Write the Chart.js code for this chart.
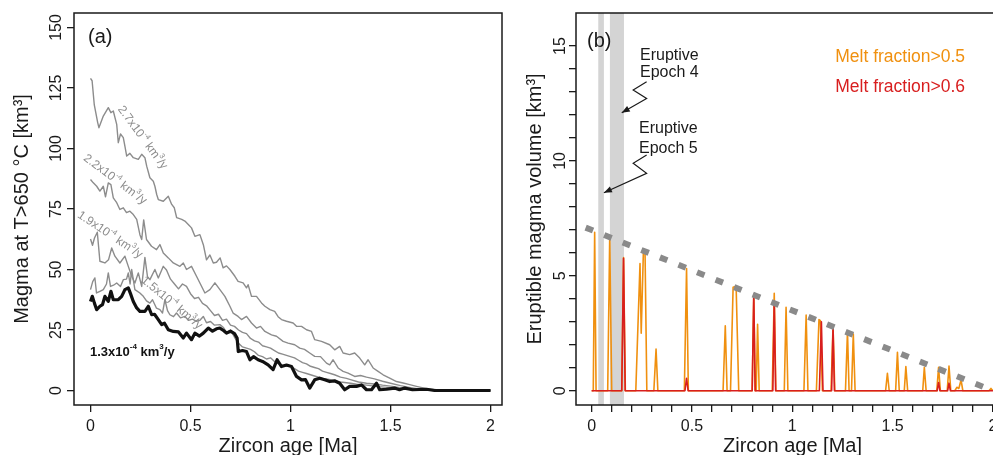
<!DOCTYPE html>
<html><head><meta charset="utf-8">
<script src="https://cdn.jsdelivr.net/npm/chart.js@4.4.1/dist/chart.umd.min.js"></script>
<style>
html,body{margin:0;padding:0;background:#fff;overflow:hidden;width:993px;height:455px;}
#ca{position:absolute;left:0;top:0;}
#cb{position:absolute;left:510px;top:0;}
</style></head><body>
<canvas id="ca" width="510" height="455"></canvas>
<canvas id="cb" width="510" height="455"></canvas>
<script>
// ---------- Panel (a): magma at T>650 C vs zircon age ----------
const age27 = [0,0.008,0.019,0.036,0.042,0.064,0.089,0.102,0.114,0.131,0.139,0.15,0.164,0.172,0.181,0.197,0.214,0.239,0.256,0.272,0.281,0.297,0.314,0.322,0.331,0.339,0.364,0.389,0.406,0.419,0.431,0.456,0.472,0.489,0.505,0.522,0.547,0.565,0.58,0.597,0.614,0.63,0.648,0.663,0.68,0.697,0.722,0.738,0.763,0.78,0.788,0.805,0.83,0.855,0.872,0.897,0.921,0.938,0.955,0.98,1.013,1.03,1.055,1.08,1.105,1.121,1.155,1.196,1.221,1.246,1.263,1.296,1.321,1.346,1.371,1.388,1.413,1.438,1.463,1.496,1.53,1.563,1.596,1.63,1.68,1.73,1.78,2.0];
const vol27 = [129,128,118,110.7,108.6,113.4,116.9,114.8,115.5,110,102.4,106,104.5,101,96.9,98,96.2,95.5,97.6,96.2,92.7,87.9,86.5,84.4,81,78.9,78.2,80.3,76.9,75.5,71.4,70.7,70,68.6,67.2,63.7,64.4,60,54,56,52.7,53,54.8,50.7,51.5,50,47.2,45.1,44.5,42.4,43.7,38.9,38.9,36.2,34.8,33.4,32.7,30.5,29.3,28.6,27.9,26.5,26.5,25.1,24.4,21,20.3,18.9,16.8,18.2,15.5,14.8,15.5,13.4,10.6,12.7,9.3,7.9,6.5,5.1,3.7,3.1,2.4,1.7,0.7,0.3,0,0];

const age22 = [0,0.014,0.031,0.047,0.064,0.075,0.089,0.102,0.114,0.131,0.147,0.164,0.18,0.197,0.214,0.231,0.247,0.256,0.266,0.28,0.305,0.33,0.347,0.364,0.389,0.414,0.447,0.464,0.48,0.505,0.53,0.547,0.572,0.597,0.622,0.647,0.672,0.697,0.713,0.738,0.755,0.78,0.805,0.83,0.85,0.872,0.905,0.93,0.963,0.988,1.021,1.046,1.07,1.096,1.121,1.15,1.18,1.196,1.213,1.238,1.263,1.288,1.321,1.35,1.38,1.42,1.46,1.5,1.55,1.6,1.65,1.7,1.75,2.0];
const vol22 = [87.2,85.8,84.4,82.4,84.4,80,85.8,85.1,79.6,77.6,74.8,75.5,73.5,74.1,72.7,70.7,64.4,62.4,70.5,62.4,59.6,58.2,60.3,56.8,54.8,52.7,51.3,52.7,50,51.3,47.2,44.4,40.3,41.7,44.5,41.7,38.9,34.8,32,30.6,29.3,30.6,27.9,25.8,26.5,24.4,23,22.4,20.3,19.6,18.9,17.5,17,15.5,14.1,14,11.3,10.6,12.7,9.3,7.9,7.2,5.8,6.2,5.5,4.8,3.8,3,2,1.2,0.5,0.2,0,0];

const age19 = [0,0.01,0.02,0.034,0.047,0.072,0.09,0.106,0.122,0.147,0.172,0.189,0.206,0.222,0.239,0.256,0.272,0.285,0.297,0.322,0.339,0.364,0.38,0.4,0.42,0.44,0.46,0.48,0.5,0.52,0.54,0.56,0.58,0.6,0.62,0.64,0.66,0.68,0.7,0.72,0.74,0.76,0.78,0.8,0.82,0.84,0.86,0.88,0.9,0.92,0.94,0.96,0.98,1.0,1.02,1.04,1.06,1.08,1.1,1.12,1.14,1.16,1.18,1.2,1.22,1.25,1.28,1.3,1.34,1.38,1.42,1.46,1.5,1.55,1.6,1.65,1.7,2.0];
const vol19 = [62.6,60,63,65.4,53.4,52.7,54,58.9,55.5,52.7,55.5,51.3,47.2,44.4,48.6,43,55,47,45.8,50,46.5,51.3,49.8,46,44,42,44,43,40,38,38.5,36,35,33,31,31.5,29,29.5,27,26.5,25,24,23.5,21.5,20.5,20,18.5,18,17.5,16.5,15.5,15,14.5,14,13.5,12.5,11.5,11,10,9.5,9,8,7.5,7,6.5,5.5,5,4.5,3.5,3,2.7,2.2,1.8,1.2,0.8,0.4,0.1,0];

const age15 = [0,0.011,0.022,0.03,0.047,0.064,0.08,0.089,0.1,0.115,0.131,0.15,0.164,0.18,0.189,0.198,0.206,0.222,0.247,0.264,0.28,0.297,0.31,0.33,0.347,0.36,0.372,0.385,0.397,0.415,0.43,0.45,0.472,0.49,0.51,0.53,0.547,0.564,0.58,0.6,0.62,0.647,0.665,0.68,0.7,0.72,0.74,0.76,0.78,0.8,0.82,0.84,0.86,0.88,0.9,0.92,0.94,0.96,0.98,1.0,1.02,1.04,1.06,1.08,1.1,1.12,1.14,1.16,1.18,1.2,1.22,1.25,1.28,1.3,1.33,1.36,1.4,1.44,1.48,1.52,1.56,1.6,1.65,1.7,1.75,2.0];
const vol15 = [41.7,45,46.5,40.3,41,41.7,44,48.6,43,43.5,44.4,43,45.8,46,48.6,44,50,41.7,40.3,38.9,37,36.1,37.5,34,33.4,32,37.5,33,31.3,30.5,32,30,30.6,29,29.5,28.6,29,30.6,28,28.5,27,27.2,26,24,25,22,19.5,18,17.5,17,16,14.5,14,13,13.5,12,11,10.5,10,10,9,8,7.5,7,6.5,6,5.5,5,4.8,4.5,4,3.5,3.2,3,2.6,2.4,2,1.6,1.3,1,0.7,0.5,0.3,0.1,0,0];

const age13 = [0,0.009,0.02,0.031,0.047,0.06,0.072,0.089,0.102,0.114,0.139,0.156,0.172,0.189,0.2,0.214,0.231,0.247,0.272,0.289,0.306,0.32,0.339,0.356,0.37,0.389,0.414,0.44,0.464,0.48,0.505,0.522,0.545,0.564,0.589,0.61,0.63,0.647,0.665,0.68,0.7,0.72,0.733,0.739,0.76,0.78,0.797,0.815,0.838,0.86,0.888,0.913,0.933,0.955,0.98,1.005,1.03,1.055,1.075,1.096,1.121,1.146,1.171,1.196,1.22,1.246,1.271,1.296,1.33,1.355,1.38,1.405,1.43,1.446,1.48,1.52,1.545,1.571,1.61,1.68,1.72,2.0];
const vol13 = [36.8,38.9,36,33.4,34.8,35.5,38.9,36.8,41,37.5,37.5,38.9,41.7,42.4,40,36.8,34.1,32.7,32.7,34.8,31.3,31.5,29.3,27.2,27.8,25.1,24.4,24.2,21.7,23.7,21,23.7,22.5,23.7,25.8,24.5,25.5,25.8,24.8,23.7,24.5,23.5,21.7,16.1,16.5,16.1,12.7,14,12.7,12,10.6,8.6,12.7,9.9,10.5,9.9,5.8,4.4,4.5,1,4.4,5.1,4.4,3.7,4,3,0.3,1.7,1.7,2.3,0.3,0.3,3,0.3,0.5,1,0.3,1,0.3,0.5,0,0];

const xTicksA = [0, 0.5, 1, 1.5, 2];
const yTicksA = [0, 25, 50, 75, 100, 125, 150];

// ---------- Panel (b): eruptible magma volume ----------
const orangeAge = [0,0.008,0.015,0.022, 0.08,0.09,0.1, 0.15,0.159,0.168, 0.22,0.241,0.247,0.258,0.266,0.275, 0.31,0.321,0.33, 0.462,0.473,0.482, 0.655,0.666,0.675, 0.692,0.705,0.72,0.733, 0.8,0.808,0.815, 0.82,0.827,0.835, 0.9,0.91,0.918, 0.96,0.969,0.978, 1.058,1.069,1.078, 1.12,1.133,1.14,1.15, 1.193,1.203,1.212, 1.265,1.275,1.283, 1.295,1.304,1.313, 1.465,1.474,1.483, 1.515,1.524,1.533, 1.558,1.566,1.575, 1.65,1.658,1.667, 1.72,1.729,1.738, 1.772,1.781,1.79, 1.81,1.82,1.83,1.841,1.85, 1.98,1.99,2.0];
const orangeVol = [0,0,6.9,0, 0,6.67,0, 0,5.8,0, 0,5.54,2.5,6.09,6.09,0, 0,1.81,0, 0,5.32,0, 0,2.83,0, 0,4.5,4.55,0, 0,4.19,0, 0,2.89,0, 0,4.24,0, 0,3.63,0, 0,3.29,0, 0,3.1,3.05,0, 0,2.79,0, 0,2.57,0, 0,2.47,0, 0,0.76,0, 0,1.67,0, 0,1.05,0, 0,1.02,0, 0,1.02,0, 0,1.07,0, 0,0.15,0.1,0.47,0, 0,0.1,0];
const redAge = [0, 0.15,0.159,0.167, 0.465,0.473,0.481, 0.8,0.808,0.815, 0.903,0.91,0.917, 1.135,1.145,1.153, 1.196,1.203,1.21, 1.722,1.729,1.736, 1.774,1.781,1.788, 2.0];
const redVol = [0, 0,5.76,0, 0,0.54,0, 0,4.19,0, 0,3.9,0, 0,3.0,0, 0,2.79,0, 0,0.36,0, 0,0.33,0, 0];
const trendAge = [-0.03, 2.0];
const trendVol = [7.1, 0];
const epochStart = [0.033, 0.091];
const epochEnd = [0.061, 0.161];
const xTicksB = [0,0.1,0.2,0.3,0.4,0.5,0.6,0.7,0.8,0.9,1,1.1,1.2,1.3,1.4,1.5,1.6,1.7,1.8,1.9,2];
const xLabelsB = [0, 0.5, 1, 1.5, 2];
const yTicksB = [0,1,2,3,4,5,6,7,8,9,10,11,12,13,14,15];
const yLabelsB = [0, 5, 10, 15];

// ---------- styling ----------
const FONT = '"Liberation Sans", Arial, Helvetica, sans-serif';
const INK = '#1a1a1a';
const GRAY = '#8c8c8c';
const ORANGE = '#F0900F';
const RED = '#D81E1E';
Chart.defaults.font.family = FONT;

const pts = (xs, ys) => xs.map((x, i) => ({x: x, y: ys[i]}));
const fmt = v => String(Math.round(v * 10) / 10);
const has = (arr, v) => arr.some(a => Math.abs(a - v) < 1e-6);

function richText(ctx, text, size, weight, color, x, y, rot, align) {
  const parts = text.split('^');
  ctx.save();
  ctx.translate(x, y);
  ctx.rotate((rot || 0) * Math.PI / 180);
  const segs = parts.map((t, i) => {
    const sup = i % 2 === 1;
    const s = sup ? size * 0.62 : size;
    ctx.font = `${weight || 'normal'} ${s}px ${FONT}`;
    return {t, s, sup, w: ctx.measureText(t).width};
  });
  const total = segs.reduce((a, g) => a + g.w, 0);
  let cx = align === 'center' ? -total / 2 : 0;
  ctx.fillStyle = color;
  ctx.textBaseline = 'middle';
  ctx.textAlign = 'left';
  segs.forEach(g => {
    ctx.font = `${weight || 'normal'} ${g.s}px ${FONT}`;
    ctx.fillText(g.t, cx, g.sup ? -size * 0.38 : 0);
    cx += g.w;
  });
  ctx.restore();
}

const framePlugin = {
  id: 'frame',
  afterDatasetsDraw(chart) {
    const a = chart.chartArea, c = chart.ctx;
    c.save(); c.strokeStyle = INK; c.lineWidth = 1.5;
    c.strokeRect(a.left, a.top, a.right - a.left, a.bottom - a.top);
    c.restore();
  }
};

const bandPlugin = {
  id: 'bands',
  beforeDatasetsDraw(chart, args, opts) {
    if (!opts.starts) return;
    const a = chart.chartArea, c = chart.ctx, xs = chart.scales.x;
    c.save(); c.fillStyle = '#d4d4d4';
    opts.starts.forEach((s, i) => {
      const p1 = xs.getPixelForValue(s), p2 = xs.getPixelForValue(opts.ends[i]);
      c.fillRect(p1, a.top, p2 - p1, a.bottom - a.top);
    });
    c.restore();
  }
};

const notesPlugin = {
  id: 'notes',
  afterDatasetsDraw(chart, args, opts) {
    const c = chart.ctx, xs = chart.scales.x, ys = chart.scales.y;
    (opts.items || []).forEach(n => {
      richText(c, n.text, n.size || 16, n.weight, n.color || INK,
        xs.getPixelForValue(n.x), ys.getPixelForValue(n.y), n.rot || 0, n.align || 'left');
    });
    (opts.arrows || []).forEach(path => {
      const p = path.map(q => [xs.getPixelForValue(q[0]), ys.getPixelForValue(q[1])]);
      c.save(); c.strokeStyle = INK; c.fillStyle = INK; c.lineWidth = 1.2;
      c.beginPath(); c.moveTo(p[0][0], p[0][1]);
      for (let i = 1; i < p.length; i++) c.lineTo(p[i][0], p[i][1]);
      c.stroke();
      const e = p[p.length - 1], b = p[p.length - 2];
      const ang = Math.atan2(e[1] - b[1], e[0] - b[0]);
      const L = 8, W = 3.2;
      c.beginPath();
      c.moveTo(e[0], e[1]);
      c.lineTo(e[0] - L * Math.cos(ang) + W * Math.sin(ang), e[1] - L * Math.sin(ang) - W * Math.cos(ang));
      c.lineTo(e[0] - L * Math.cos(ang) - W * Math.sin(ang), e[1] - L * Math.sin(ang) + W * Math.cos(ang));
      c.closePath(); c.fill();
      c.restore();
    });
  }
};

const gridStyle = {drawOnChartArea: false, drawTicks: true, tickLength: 7, color: INK, lineWidth: 1.3};
const tickFont = {size: 16, family: FONT};
const titleFont = {size: 20, family: FONT};

function line(xs, ys, color, width, order) {
  return {data: pts(xs, ys), borderColor: color, borderWidth: width, pointRadius: 0,
    tension: 0, fill: false, order: order, borderJoinStyle: 'round'};
}

new Chart(document.getElementById('ca'), {
  type: 'line',
  data: {datasets: [
    line(age27, vol27, GRAY, 1.4, 4),
    line(age22, vol22, GRAY, 1.4, 3),
    line(age19, vol19, GRAY, 1.4, 2),
    line(age15, vol15, GRAY, 1.4, 1),
    line(age13, vol13, '#111', 3.2, 0)
  ]},
  options: {
    responsive: false, animation: false, devicePixelRatio: 1,
    layout: {padding: {top: 13, right: 8, left: 0, bottom: 0}},
    plugins: {
      legend: {display: false}, tooltip: {enabled: false},
      notes: {items: [
        {x: -0.0125, y: 145.7, text: '(a)', size: 20},
        {x: 0.26, y: 104.5, text: '2.7x10^-4^ km^3^/y', size: 12, color: GRAY, rot: 53.6, align: 'center'},
        {x: 0.1225, y: 87.2, text: '2.2x10^-4^ km^3^/y', size: 12, color: GRAY, rot: 36.9, align: 'center'},
        {x: 0.0975, y: 64.3, text: '1.9x10^-4^ km^3^/y', size: 12, color: GRAY, rot: 33.7, align: 'center'},
        {x: 0.406, y: 36.2, text: '1.5x10^-4^ km^3^/y', size: 12, color: GRAY, rot: 39.8, align: 'center'},
        {x: -0.0025, y: 15.9, text: '1.3x10^-4^ km^3^/y', size: 13, weight: 'bold', color: '#111'}
      ]}
    },
    scales: {
      x: {type: 'linear', min: -0.0825, max: 2.0575,
        afterBuildTicks: s => { s.ticks = xTicksA.map(v => ({value: v})); },
        afterFit: s => { s.height = 50; },
        grid: gridStyle, border: {display: false},
        ticks: {autoSkip: false, maxRotation: 0, padding: 5, color: INK, font: tickFont, callback: v => fmt(v)},
        title: {display: true, text: 'Zircon age [Ma]', color: INK, font: titleFont, padding: {top: 0, bottom: -3}}
      },
      y: {type: 'linear', min: -6, max: 156,
        afterBuildTicks: s => { s.ticks = yTicksA.map(v => ({value: v})); },
        afterFit: s => { s.width = 74; },
        grid: gridStyle, border: {display: false},
        ticks: {autoSkip: false, minRotation: 90, maxRotation: 90, crossAlign: 'center', padding: -3.3,
          color: INK, font: tickFont, callback: v => fmt(v)},
        title: {display: true, text: 'Magma at T>650 °C [km³]', color: INK, font: titleFont, padding: {top: 10, bottom: 0}}
      }
    }
  },
  plugins: [framePlugin, notesPlugin]
});

new Chart(document.getElementById('cb'), {
  type: 'line',
  data: {datasets: [
    line(orangeAge, orangeVol, ORANGE, 1.6, 2),
    line(redAge, redVol, RED, 1.6, 1),
    Object.assign(line(trendAge, trendVol, '#8a8a8a', 6, 0), {borderDash: [8, 12], borderCapStyle: 'butt'})
  ]},
  options: {
    responsive: false, animation: false, devicePixelRatio: 1,
    layout: {padding: {top: 13, right: 11, left: 0, bottom: 0}},
    plugins: {
      legend: {display: false}, tooltip: {enabled: false},
      bands: {starts: epochStart, ends: epochEnd},
      notes: {
        items: [
          {x: -0.023, y: 15.2, text: '(b)', size: 20},
          {x: 0.241, y: 14.6, text: 'Eruptive', size: 16},
          {x: 0.241, y: 13.83, text: 'Epoch 4', size: 16},
          {x: 0.236, y: 11.39, text: 'Eruptive', size: 16},
          {x: 0.236, y: 10.56, text: 'Epoch 5', size: 16},
          {x: 1.214, y: 14.5, text: 'Melt fraction>0.5', size: 17.5, color: ORANGE},
          {x: 1.214, y: 13.22, text: 'Melt fraction>0.6', size: 17.5, color: RED}
        ],
        arrows: [
          [[0.274, 13.45], [0.207, 13.09], [0.274, 12.72], [0.150, 12.10]],
          [[0.274, 10.26], [0.207, 9.9], [0.274, 9.46], [0.061, 8.62]]
        ]
      }
    },
    scales: {
      x: {type: 'linear', min: -0.078, max: 2.08,
        afterBuildTicks: s => { s.ticks = xTicksB.map(v => ({value: v})); },
        afterFit: s => { s.height = 50; },
        grid: gridStyle, border: {display: false},
        ticks: {autoSkip: false, maxRotation: 0, padding: 5, color: INK, font: tickFont,
          callback: v => has(xLabelsB, v) ? fmt(v) : ''},
        title: {display: true, text: 'Zircon age [Ma]', color: INK, font: titleFont, padding: {top: 0, bottom: -3}}
      },
      y: {type: 'linear', min: -0.62, max: 16.44,
        afterBuildTicks: s => { s.ticks = yTicksB.map(v => ({value: v})); },
        afterFit: s => { s.width = 66; },
        grid: gridStyle, border: {display: false},
        ticks: {autoSkip: false, minRotation: 90, maxRotation: 90, crossAlign: 'center', padding: 0,
          color: INK, font: tickFont, callback: v => has(yLabelsB, v) ? fmt(v) : ''},
        title: {display: true, text: 'Eruptible magma volume [km³]', color: INK, font: titleFont, padding: {top: 13, bottom: 0}}
      }
    }
  },
  plugins: [bandPlugin, framePlugin, notesPlugin]
});
</script>
</body></html>
